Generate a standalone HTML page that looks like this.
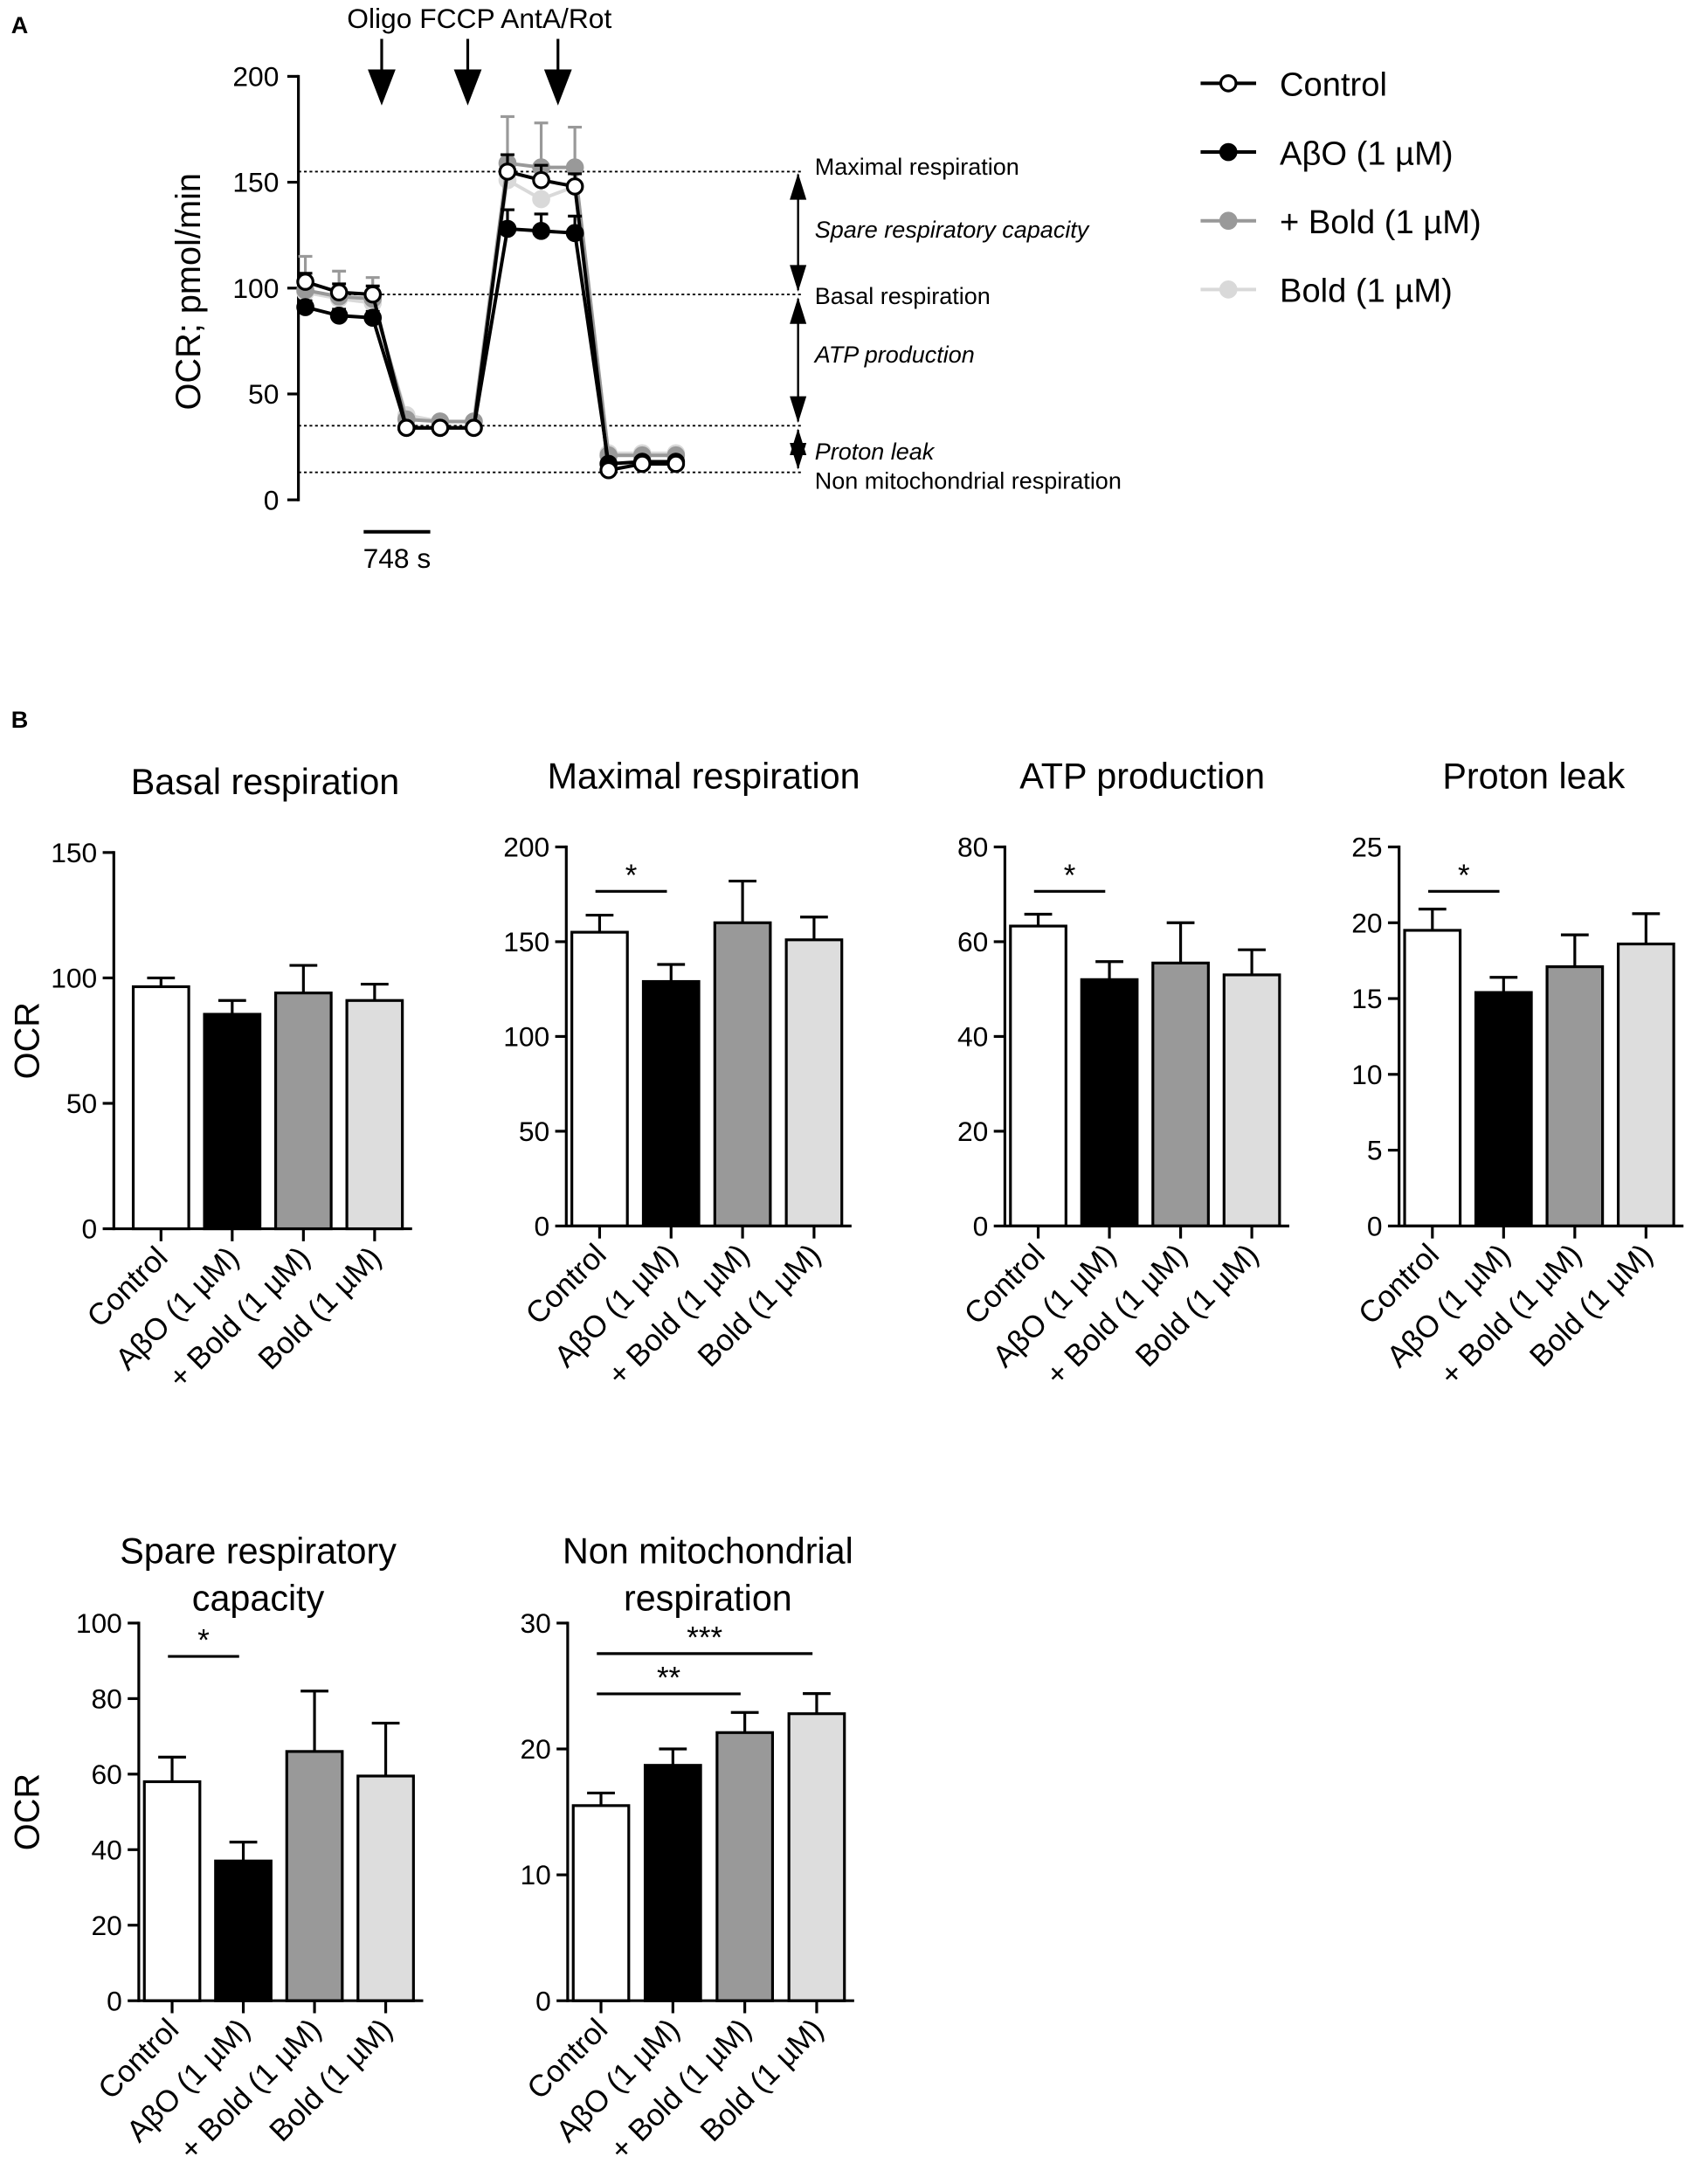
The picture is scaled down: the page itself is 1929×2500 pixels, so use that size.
<!DOCTYPE html>
<html><head><meta charset="utf-8">
<style>
html,body{margin:0;padding:0;background:#fff;}
svg{display:block;font-family:"Liberation Sans",Arial,sans-serif;}
</style></head>
<body>
<svg id="fig" width="1929" height="2500" viewBox="0 0 1214 1573" preserveAspectRatio="none" xmlns="http://www.w3.org/2000/svg">
<text x="8" y="24" font-size="17" font-weight="bold">A</text>
<text x="8" y="524" font-size="17" font-weight="bold">B</text>
</svg>
<script>
// ---------- Panel A data ----------
const timesA = [0, 379, 758, 1137, 1516, 1895, 2274, 2653, 3032, 3411, 3790, 4169];
const ctrlA = [103, 98, 97, 34, 34, 34, 155, 151, 148, 14, 17, 17];
const ctrlErrA = [4, 4, 4, 1, 1, 1, 8, 7, 6, 1, 1, 1];
const aboA = [91, 87, 86, 34, 34, 34, 128, 127, 126, 17, 18, 18];
const aboErrA = [3, 3, 3, 1, 1, 1, 9, 8, 8, 1, 1, 1];
const pbA = [99, 96, 95, 38, 37, 37, 159, 157, 157, 21, 21, 21];
const pbErrA = [16, 12, 10, 2, 2, 2, 22, 21, 19, 2, 2, 2];
const boldA = [98, 95, 93, 40, 37, 37, 151, 142, 148, 22, 22, 22];
const boldErrA = [5, 5, 5, 2, 2, 2, 10, 10, 8, 2, 2, 2];
const ticksA = [0, 50, 100, 150, 200];
const refLevelsA = [155, 97, 35, 13];

// ---------- Panel B data ----------
const groupsB = ["Control", "AβO (1 µM)", "+ Bold (1 µM)", "Bold (1 µM)"];
const basalVals = [96.5, 85.5, 94, 91];
const basalErr = [3.5, 5.5, 11, 6.5];
const basalTicks = [0, 50, 100, 150];
const maxVals = [155, 129, 160, 151];
const maxErr = [9, 9, 22, 12];
const maxTicks = [0, 50, 100, 150, 200];
const atpVals = [63.3, 52, 55.5, 53];
const atpErr = [2.5, 3.8, 8.5, 5.3];
const atpTicks = [0, 20, 40, 60, 80];
const leakVals = [19.5, 15.4, 17.1, 18.6];
const leakErr = [1.4, 1.0, 2.1, 2.0];
const leakTicks = [0, 5, 10, 15, 20, 25];
const spareVals = [58, 37, 66, 59.5];
const spareErr = [6.5, 5, 16, 14];
const spareTicks = [0, 20, 40, 60, 80, 100];
const nonVals = [15.5, 18.7, 21.3, 22.8];
const nonErr = [1.0, 1.3, 1.6, 1.6];
const nonTicks = [0, 10, 20, 30];

const NS = "http://www.w3.org/2000/svg";
const svg = document.getElementById("fig");
function mk(tag, attrs, parent) {
  const e = document.createElementNS(NS, tag);
  for (const k in attrs) e.setAttribute(k, attrs[k]);
  (parent || svg).appendChild(e);
  return e;
}

// ---------- Panel A ----------
const gA = mk("g", {});


const yA = v => 360 - v * 1.525;
const xA = t => 220 + t * (267 / 4169);

let ax = mk("line", {x1: 215, y1: 54, x2: 215, y2: 361, stroke: "#000", "stroke-width": 2}, gA);


ticksA.forEach(v => {
  const t = mk("line", {x1: 207, y1: yA(v), x2: 215, y2: yA(v), stroke: "#000", "stroke-width": 2}, gA);
  
  
  const l = mk("text", {x: 201, y: yA(v) + 7, "font-size": 20, "text-anchor": "end"}, gA);
  l.textContent = v;
  
  
});
let yt = mk("text", {x: 0, y: 0, "font-size": 25, "text-anchor": "middle", transform: "translate(144,210) rotate(-90)"}, gA);
yt.textContent = "OCR; pmol/min";



refLevelsA.forEach(v => {
  const d = mk("line", {x1: 215, y1: yA(v), x2: 578, y2: yA(v), stroke: "#000", "stroke-width": 1.2, "stroke-dasharray": "2,2"}, gA);
  
  
});
function dblArrow(y1, y2) {
  const g = mk("g", {}, gA);
  
  
  const h = Math.min(12, (y2 - y1) / 2.2);
  mk("line", {x1: 575, y1: y1 + 2, x2: 575, y2: y2 - 2, stroke: "#000", "stroke-width": 1.5}, g);
  mk("polygon", {points: `575,${y1 + 1} ${569},${y1 + 1 + h * 1.6} ${581},${y1 + 1 + h * 1.6}`, fill: "#000"}, g);
  mk("polygon", {points: `575,${y2 - 1} ${569},${y2 - 1 - h * 1.6} ${581},${y2 - 1 - h * 1.6}`, fill: "#000"}, g);
}
dblArrow(yA(155), yA(97) - 1);
dblArrow(yA(97) + 1, yA(35) - 1);
dblArrow(yA(35) + 1, yA(13) - 1);
const ann = [
  ["Maximal respiration", 126, false],
  ["Spare respiratory capacity", 171, true],
  ["Basal respiration", 219, false],
  ["ATP production", 261, true],
  ["Proton leak", 331, true],
  ["Non mitochondrial  respiration", 352, false]
];
ann.forEach(a => {
  const t = mk("text", {x: 587, y: a[1], "font-size": 17, "font-style": a[2] ? "italic" : "normal"}, gA);
  t.textContent = a[0];
  
  
});
[["Oligo", 275], ["FCCP", 337], ["AntA/Rot", 402]].forEach(a => {
  const g = mk("g", {}, gA);
  
  
  mk("line", {x1: a[1], y1: 28, x2: a[1], y2: 55, stroke: "#000", "stroke-width": 2}, g);
  mk("polygon", {points: `${a[1] - 10},50 ${a[1] + 10},50 ${a[1]},76`, fill: "#000"}, g);
});
let inj = mk("text", {x: 250, y: 20, "font-size": 20}, gA);
inj.textContent = "Oligo FCCP AntA/Rot";


let sb = mk("line", {x1: 262, y1: 383, x2: 310, y2: 383, stroke: "#000", "stroke-width": 2.5}, gA);


let sbl = mk("text", {x: 286, y: 409, "font-size": 20, "text-anchor": "middle"}, gA);
sbl.textContent = "748 s";



function series(vals, errs, color, fill, name) {
  const g = mk("g", {}, gA);
  
  
  vals.forEach((v, i) => {
    const e = mk("line", {x1: xA(timesA[i]), y1: yA(v), x2: xA(timesA[i]), y2: yA(v + errs[i]), stroke: color, "stroke-width": 2}, g);
    
    
    const c = mk("line", {x1: xA(timesA[i]) - 5, y1: yA(v + errs[i]), x2: xA(timesA[i]) + 5, y2: yA(v + errs[i]), stroke: color, "stroke-width": 2}, g);
    
    
  });
  const pts = vals.map((v, i) => `${xA(timesA[i])},${yA(v)}`).join(" ");
  const pl = mk("polyline", {points: pts, fill: "none", stroke: color, "stroke-width": 2.5}, g);
  
  
  vals.forEach((v, i) => {
    const c = mk("circle", {cx: xA(timesA[i]), cy: yA(v), r: 5.5, fill: fill, stroke: color, "stroke-width": 2}, g);
    
    
  });
}
series(boldA, boldErrA, "#d9d9d9", "#d9d9d9", "series-bold");
series(pbA, pbErrA, "#999", "#999", "series-abo-plus-bold");
series(aboA, aboErrA, "#000", "#000", "series-abo");
series(ctrlA, ctrlErrA, "#000", "#fff", "series-control");

const legend = [["Control", "#000", "#fff"], ["AβO (1 µM)", "#000", "#000"], ["+ Bold (1 µM)", "#999", "#999"], ["Bold (1 µM)", "#d9d9d9", "#d9d9d9"]];
legend.forEach((l, i) => {
  const y = 60 + i * 49.5;
  const g = mk("g", {});
  
  
  mk("line", {x1: 865, y1: y, x2: 905, y2: y, stroke: l[1], "stroke-width": 2.5}, g);
  mk("circle", {cx: 885, cy: y, r: 5.5, fill: l[2], stroke: l[1], "stroke-width": 2}, g);
  const t = mk("text", {x: 922, y: y + 9, "font-size": 24}, g);
  t.textContent = l[0];
});

// ---------- Panel B bar charts ----------
const fills = ["#fff", "#000", "#999", "#ddd"];
function barChart(o) {
  const g = mk("g", {});
  
  
  const max = o.ticks[o.ticks.length - 1];
  const y = v => o.y0 - (o.y0 - o.yTop) * v / max;
  const step = o.step;
  const off = o.off || 24;
  const bw = 40;
  const cx = i => o.ax + off + i * step;
  o.vals.forEach((v, i) => {
    const e = mk("line", {x1: cx(i), y1: y(v), x2: cx(i), y2: y(v + o.err[i]), stroke: "#000", "stroke-width": 2}, g);
    
    
    const c = mk("line", {x1: cx(i) - 10, y1: y(v + o.err[i]), x2: cx(i) + 10, y2: y(v + o.err[i]), stroke: "#000", "stroke-width": 2}, g);
    
    
    const r = mk("rect", {x: cx(i) - bw / 2, y: y(v), width: bw, height: o.y0 - y(v), fill: fills[i], stroke: "#000", "stroke-width": 2}, g);
    
    
    const tk = mk("line", {x1: cx(i), y1: o.y0, x2: cx(i), y2: o.y0 + 9, stroke: "#000", "stroke-width": 2}, g);
    
    
    const lx = cx(i) + 6, ly = o.y0 + 22;
    const t = mk("text", {x: lx, y: ly, "font-size": 22, "text-anchor": "end", transform: `rotate(-45 ${lx} ${ly})`}, g);
    t.textContent = groupsB[i];
    
    
  });
  const ya = mk("line", {x1: o.ax, y1: o.yTop - 1, x2: o.ax, y2: o.y0 + 1, stroke: "#000", "stroke-width": 2}, g);
  
  
  const xa = mk("line", {x1: o.ax, y1: o.y0, x2: o.ax + off + 3 * step + 27, y2: o.y0, stroke: "#000", "stroke-width": 2}, g);
  
  
  o.ticks.forEach(v => {
    const t = mk("line", {x1: o.ax - 8, y1: y(v), x2: o.ax, y2: y(v), stroke: "#000", "stroke-width": 2}, g);
    
    
    const l = mk("text", {x: o.ax - 12, y: y(v) + 7, "font-size": 20, "text-anchor": "end"}, g);
    l.textContent = v;
    
    
  });
  o.title.forEach((line, k) => {
    const t = mk("text", {x: o.tx, y: o.ty + k * 34, "font-size": 26, "text-anchor": "middle"}, g);
    t.textContent = line;
    
    
  });
  if (o.ylab) {
    const t = mk("text", {x: 0, y: 0, "font-size": 25, "text-anchor": "middle", transform: `translate(28,${(o.y0 + o.yTop) / 2}) rotate(-90)`}, g);
    t.textContent = "OCR";
    
    
  }
  (o.sig || []).forEach(s => {
    const l = mk("line", {x1: cx(s[0]) - 3, y1: s[2], x2: cx(s[1]) - 3, y2: s[2], stroke: "#000", "stroke-width": 2}, g);
    
    
    const t = mk("text", {x: (cx(s[0]) + cx(s[1])) / 2 - 3, y: s[2] - 4, "font-size": 22, "text-anchor": "middle"}, g);
    t.textContent = s[3];
    
    
  });
}
barChart({name: "basal-respiration-chart", ax: 82, off: 34, y0: 885, yTop: 614, step: 51.3, vals: basalVals, err: basalErr, ticks: basalTicks, title: ["Basal respiration"], tx: 191, ty: 572, ylab: true});
barChart({name: "maximal-respiration-chart", ax: 408, y0: 883, yTop: 610, step: 51.5, vals: maxVals, err: maxErr, ticks: maxTicks, title: ["Maximal respiration"], tx: 507, ty: 568, sig: [[0, 1, 642, "*"]]});
barChart({name: "atp-production-chart", ax: 724, y0: 883, yTop: 610, step: 51.3, vals: atpVals, err: atpErr, ticks: atpTicks, title: ["ATP production"], tx: 823, ty: 568, sig: [[0, 1, 642, "*"]]});
barChart({name: "proton-leak-chart", ax: 1008, y0: 883, yTop: 610, step: 51.3, vals: leakVals, err: leakErr, ticks: leakTicks, title: ["Proton leak"], tx: 1105, ty: 568, sig: [[0, 1, 642, "*"]]});
barChart({name: "spare-capacity-chart", ax: 100, y0: 1441, yTop: 1169, step: 51.3, vals: spareVals, err: spareErr, ticks: spareTicks, title: ["Spare respiratory", "capacity"], tx: 186, ty: 1126, ylab: true, sig: [[0, 1, 1193, "*"]]});
barChart({name: "non-mitochondrial-chart", ax: 409, y0: 1441, yTop: 1169, step: 51.8, vals: nonVals, err: nonErr, ticks: nonTicks, title: ["Non mitochondrial", "respiration"], tx: 510, ty: 1126, sig: [[0, 2, 1220, "**"], [0, 3, 1191, "***"]]});
</script>
</body></html>
